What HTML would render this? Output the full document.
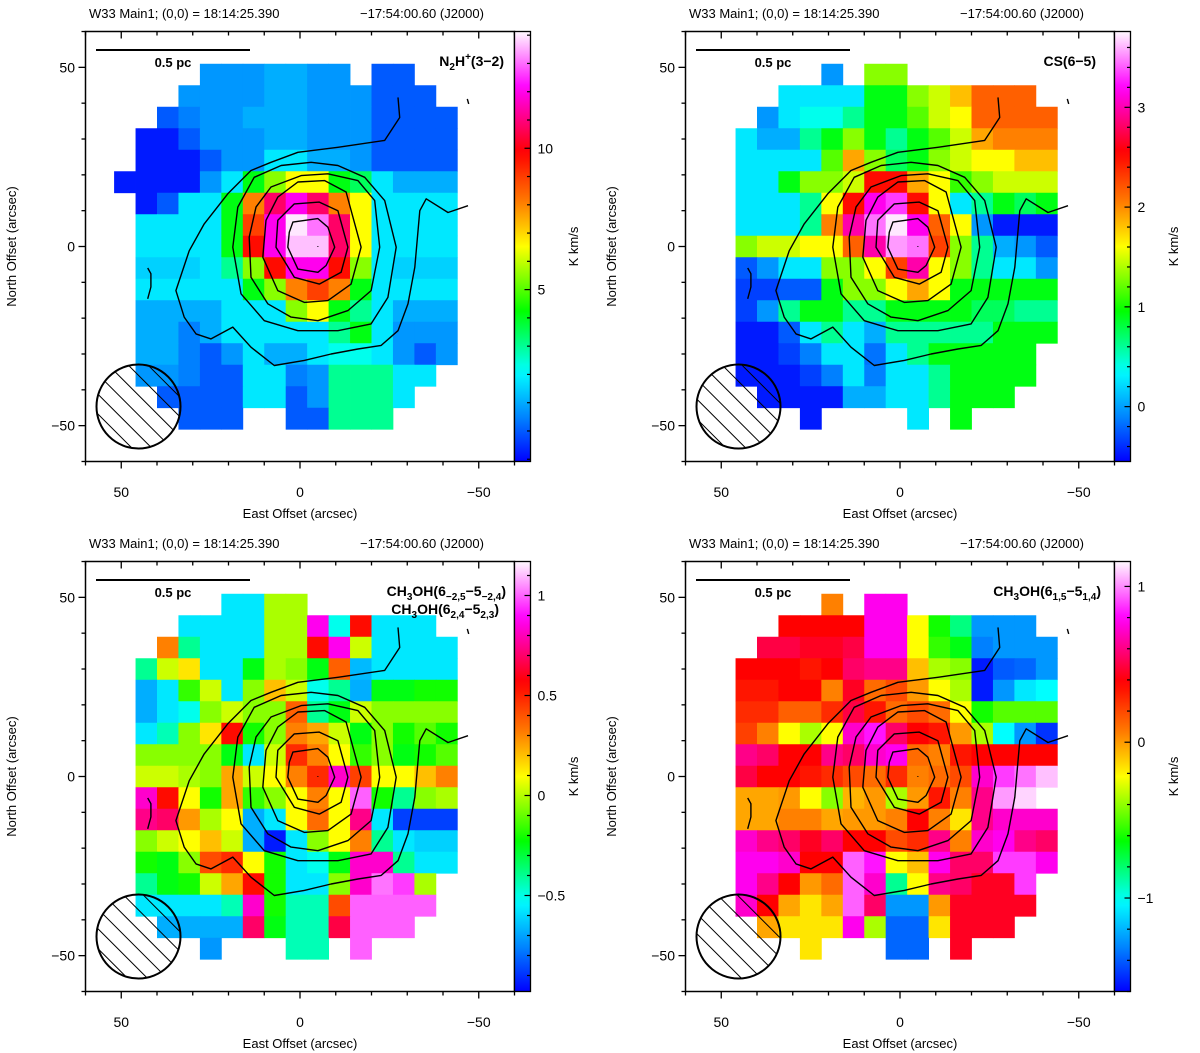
<!DOCTYPE html>
<html><head><meta charset="utf-8">
<style>
html,body{margin:0;padding:0;background:#fff;}
svg{display:block;font-family:"Liberation Sans",Arial,sans-serif;}
</style></head>
<body>
<svg id="fig" width="1200" height="1053" viewBox="0 0 1200 1053" xmlns="http://www.w3.org/2000/svg">
<defs>
<pattern id="hatch" patternUnits="userSpaceOnUse" width="14" height="14" patternTransform="rotate(-45)">
<line x1="0" y1="0" x2="0" y2="14" stroke="#000" stroke-width="2"/>
</pattern>
</defs>
</svg>
<script>
// ---- data: colour-scale level (percent of colorbar range), -1 = no data ----
const n2hLevels = [
[-1,-1,-1,-1,12,12,12,14,14,12,12,-1,7,7,-1,-1],
[-1,-1,-1,12,12,12,12,14,14,12,12,12,7,7,7,-1],
[-1,-1,7,10,12,12,14,14,14,12,12,12,7,7,7,7],
[-1,2,2,7,12,12,12,14,14,12,12,12,7,7,7,7],
[-1,2,2,2,7,12,12,19,19,14,14,12,7,7,7,7],
[2,2,2,2,12,19,34,43,50,50,34,30,19,14,14,14],
[-1,2,7,19,19,34,60,78,86,78,60,50,19,19,19,19],
[-1,19,19,19,19,34,66,86,99,93,78,50,19,19,19,19],
[-1,19,19,19,19,34,71,86,97,97,78,50,19,19,19,19],
[-1,17,17,17,19,27,43,71,86,86,71,43,19,17,17,17],
[-1,19,19,19,19,19,34,43,60,66,60,34,19,19,19,19],
[-1,14,14,14,14,19,19,19,43,50,34,27,19,14,14,14],
[-1,14,14,10,14,19,19,19,19,19,27,34,19,12,12,12],
[-1,14,14,10,7,12,19,14,14,19,22,22,19,12,7,12],
[-1,12,12,10,7,7,19,19,10,12,27,27,27,19,19,-1],
[-1,-1,7,7,7,7,19,19,7,12,27,27,27,19,-1,-1],
[-1,-1,-1,7,7,7,-1,-1,7,7,27,27,27,-1,-1,-1]];
const csLevels = [
[-1,-1,-1,-1,-1,12,-1,43,43,-1,-1,-1,-1,-1,-1,-1],
[-1,-1,-1,19,19,19,19,34,34,43,47,55,63,63,63,-1],
[-1,-1,12,19,22,22,27,34,34,40,47,50,63,63,63,63],
[-1,19,14,14,27,34,43,34,27,34,40,47,57,60,60,60],
[-1,19,19,19,19,40,57,43,30,34,43,47,50,50,55,55],
[-1,19,19,34,43,43,47,71,71,57,50,38,43,47,47,47],
[-1,19,19,19,27,50,71,86,90,71,50,19,27,34,30,34],
[-1,19,19,19,27,60,82,93,99,86,63,50,12,2,2,2],
[-1,43,47,47,50,50,63,82,95,93,66,43,27,14,12,7],
[-1,7,12,19,19,43,43,50,66,82,50,43,27,19,19,12],
[-1,5,5,7,7,34,43,43,50,57,50,34,34,34,34,34],
[-1,5,12,27,34,34,27,27,34,34,34,34,30,30,27,27],
[-1,2,2,7,19,27,19,14,27,27,27,27,27,34,34,34],
[-1,2,2,5,10,19,19,9,19,27,34,34,34,34,34,-1],
[-1,2,2,2,5,10,19,10,19,19,27,34,34,34,34,-1],
[-1,-1,2,2,2,2,14,14,19,19,27,34,34,34,-1,-1],
[-1,-1,-1,-1,2,-1,-1,-1,-1,19,-1,34,-1,-1,-1,-1]];
const ch3ohALevels = [
[-1,-1,-1,-1,-1,19,19,45,45,-1,-1,-1,-1,-1,-1,-1],
[-1,-1,-1,19,19,19,19,45,45,86,22,71,19,19,19,-1],
[-1,-1,60,27,19,19,19,45,45,71,86,47,19,19,19,19],
[-1,27,47,52,19,19,34,45,43,34,63,15,19,19,19,19],
[-1,14,19,38,47,19,43,55,47,22,27,14,34,34,36,36],
[-1,14,19,22,43,47,43,43,63,27,34,47,43,43,43,43],
[-1,19,25,43,52,71,36,43,60,57,47,34,43,36,40,36],
[-1,43,43,43,43,34,19,47,68,60,50,38,43,34,36,40],
[-1,47,47,45,43,57,47,50,60,68,84,66,50,50,55,60],
[-1,84,71,50,36,57,38,43,50,60,50,92,36,27,43,45],
[-1,80,78,58,45,50,14,19,50,62,50,80,19,5,5,5],
[-1,43,47,50,55,47,14,2,19,43,50,60,27,19,17,17],
[-1,36,34,43,65,68,50,36,19,22,34,84,84,27,19,19],
[-1,27,34,36,47,57,71,36,19,19,43,84,93,90,45,-1],
[-1,19,19,19,19,25,84,36,25,25,65,92,92,92,92,-1],
[-1,-1,14,14,14,14,78,34,25,25,76,92,92,92,-1,-1],
[-1,-1,-1,-1,12,-1,-1,-1,25,25,-1,92,-1,-1,-1,-1]];
const ch3ohBLevels = [
[-1,-1,-1,-1,-1,60,-1,86,86,-1,-1,-1,-1,-1,-1,-1],
[-1,-1,-1,72,72,72,72,86,86,50,36,28,12,12,12,-1],
[-1,-1,76,76,74,74,76,86,86,50,38,34,10,12,12,12],
[-1,72,72,72,70,72,78,80,80,55,45,43,2,7,8,12],
[-1,70,70,72,72,60,74,62,65,58,50,45,2,12,19,21],
[-1,68,68,63,63,68,76,70,62,65,62,50,36,40,40,40],
[-1,66,60,50,45,50,84,88,78,72,70,58,45,21,12,4],
[-1,80,78,72,72,80,78,84,86,62,60,70,72,72,72,72],
[-1,76,72,72,70,68,65,62,68,60,62,65,84,90,93,97],
[-1,57,57,58,50,43,56,58,45,58,70,60,80,95,98,-1],
[-1,57,57,60,60,57,58,58,60,72,60,52,80,84,84,84],
[-1,84,80,78,74,78,72,72,65,68,80,60,84,86,80,78],
[-1,86,86,84,72,72,92,88,50,55,86,78,78,90,90,86],
[-1,86,80,72,58,62,92,84,27,50,80,78,74,74,90,-1],
[-1,84,72,57,52,57,92,78,12,12,58,74,74,74,74,-1],
[-1,-1,57,52,52,52,86,45,8,8,52,74,74,74,-1,-1],
[-1,-1,-1,-1,52,-1,-1,-1,8,8,-1,74,-1,-1,-1,-1]];
// colorbar ranges and tick labels
const n2hRange = [-1.08, 14.13];   const n2hTicks = [5, 10];          const n2hMinor = 1;
const csRange = [-0.55, 3.76];     const csTicks = [0, 1, 2, 3];      const csMinor = 0.2;
const ch3ohARange = [-0.98, 1.17]; const ch3ohATicks = [-0.5, 0, 0.5, 1]; const ch3ohAMinor = 0.1;
const ch3ohBRange = [-1.6, 1.16];  const ch3ohBTicks = [-1, 0, 1];    const ch3ohBMinor = 0.2;
// grid: column / row centres (arcsec)
const colOffsets = [49,43,37,31,25,19,13,7,1,-5,-11,-17,-23,-29,-35,-41];
const rowOffsets = [48,42,36,30,24,18,12,6,0,-6,-12,-18,-24,-30,-36,-42,-48];
const axisTicks = [50, 0, -50];
// N2H+ contours (arcsec offsets, east, north)
const contourInnerX = [2.0,-5.0,-7.8,-9.7,-7.3,-5.0,0.6,3.4,3.0];
const contourInnerY = [6.8,7.8,5.4,-0.2,-5.3,-7.2,-6.3,-0.2,4.0];
const contour2X = [1.6,-5.4,-10.6,-13.4,-11.5,-5.4,1.6,6.7,6.2];
const contour2Y = [11.9,12.4,10.0,-0.2,-7.2,-10.5,-8.6,-0.2,7.3];
const contour3X = [0.6,-6.9,-12.9,-17.1,-14.3,-7.8,-1.2,6.2,10.4,9.5,6.2];
const contour3Y = [18.0,18.4,15.2,-0.2,-10.5,-15.1,-15.6,-12.3,-3.0,7.3,13.8];
const contour4X = [8.1,-0.3,-7.8,-16.2,-20.9,-22.3,-19.9,-13.4,-5.0,2.5,9.0,13.7,14.2,12.3];
const contour4Y = [16.6,19.8,20.3,18.4,12.8,-0.2,-12.3,-17.9,-20.7,-19.7,-16.0,-8.6,2.6,11.0];
const contour5X = [12.8,5.3,-3.1,-10.6,-18.1,-23.7,-26.9,-24.6,-19.9,-10.6,0.6,10.0,16.5,18.8,17.4];
const contour5Y = [19.3,22.6,23.5,22.6,19.3,12.8,-0.2,-14.2,-21.6,-23.5,-23.5,-20.7,-13.2,-0.2,11.0];
const contourOuterX = [-27.4,-27.9,-23.7,-10.6,0.6,8.1,13.7,20.2,26.8,31.0,34.7,32.4,29.1,24.9,18.8,13.7,7.2,-1.2,-8.7,-16.2,-22.7,-27.4,-30.2,-32.1,-33.5,-35.3,-41.4,-47.0];
const contourOuterY = [41.6,36.0,29.6,27.7,26.3,23.5,21.2,14.7,6.3,-1.2,-12.3,-19.7,-24.4,-25.8,-22.5,-28.1,-33.2,-31.8,-30.0,-28.6,-27.6,-23.5,-16.0,-5.8,10.0,13.3,9.5,11.4];
const contourEdgeX = [42.6,41.7,41.7,42.6];
const contourEdgeY = [-6.0,-7.6,-11.3,-14.6];
const contourTickX = [-46.8,-47.2];
const contourTickY = [41.2,39.8];

const NS = 'http://www.w3.org/2000/svg';
const svg = document.getElementById('fig');
function mk(tag, attrs, parent){const e=document.createElementNS(NS,tag);for(const k in attrs)e.setAttribute(k,attrs[k]);(parent||svg).appendChild(e);return e;}

const cmapStops = [[0,[0,0,255]],[0.1,[0,128,255]],[0.21,[0,255,255]],[0.35,[0,255,0]],[0.5,[255,255,0]],[0.6,[255,128,0]],[0.72,[255,0,0]],[0.87,[255,0,255]],[1,[255,250,255]]];
function cmap(f){f=Math.max(0,Math.min(1,f));for(let i=1;i<cmapStops.length;i++){if(f<=cmapStops[i][0]){const a=cmapStops[i-1],b=cmapStops[i];const t=(f-a[0])/(b[0]-a[0]);const c=a[1].map((v,k)=>Math.round(v+(b[1][k]-v)*t));return 'rgb('+c.join(',')+')';}}return 'rgb(255,250,255)';}

const contours = [[contourInnerX,contourInnerY,true],[contour2X,contour2Y,true],[contour3X,contour3Y,true],[contour4X,contour4Y,true],[contour5X,contour5Y,true],[contourOuterX,contourOuterY,false],[contourEdgeX,contourEdgeY,false],[contourTickX,contourTickY,false]];

const panels = [
 {ox:0,oy:0,levels:n2hLevels,range:n2hRange,ticks:n2hTicks,minor:n2hMinor,name:'n2h'},
 {ox:600,oy:0,levels:csLevels,range:csRange,ticks:csTicks,minor:csMinor,name:'cs'},
 {ox:0,oy:530,levels:ch3ohALevels,range:ch3ohARange,ticks:ch3ohATicks,minor:ch3ohAMinor,name:'ch3oh-a'},
 {ox:600,oy:530,levels:ch3ohBLevels,range:ch3ohBRange,ticks:ch3ohBTicks,minor:ch3ohBMinor,name:'ch3oh-b'}];

function fmt(v){return (v<0?'\u2212':'')+Math.abs(v);}

panels.forEach((p,pi)=>{
  const g = mk('g',{});
  
  
  const px = X => p.ox + 300 - X*3.575;
  const py = Y => p.oy + 246.5 - Y*3.583;
  const L=p.ox+85.5, R=p.ox+514.5, T=p.oy+31.5, B=p.oy+461.5;
  const cells = mk('g',{},g);
  
  
  p.levels.forEach((row,j)=>{row.forEach((v,i)=>{
    if(v<0) return;
    const X=colOffsets[i], Y=rowOffsets[j];
    const x0=px(X+3), x1=px(X-3), y0=py(Y+3), y1=py(Y-3);
    const r = mk('rect',{x:x0.toFixed(2),y:y0.toFixed(2),width:(x1-x0+0.4).toFixed(2),height:(y1-y0+0.4).toFixed(2),fill:cmap(v/100)},cells);
    
    
  });});
  contours.forEach(([xs,ys,closed])=>{
    const pts = xs.map((x,k)=>px(x).toFixed(1)+','+py(ys[k]).toFixed(1)).join(' ');
    const c = mk(closed?'polygon':'polyline',{points:pts,fill:'none',stroke:'#000','stroke-width':1.4,'stroke-linejoin':'round'},g);
    
    
  });
  mk('rect',{x:px(-5)-0.5,y:py(0)-0.5,width:1,height:1,fill:'#000'},g);
  const beam = mk('g',{},g);
  
  
  mk('circle',{cx:p.ox+138.5,cy:p.oy+406.5,r:42,fill:'url(#hatch)'},beam);
  mk('circle',{cx:p.ox+138.5,cy:p.oy+406.5,r:42,fill:'none',stroke:'#000','stroke-width':2},beam);
  const sb = mk('g',{},g);
  
  
  mk('line',{x1:p.ox+96,x2:p.ox+250,y1:p.oy+50,y2:p.oy+50,stroke:'#000','stroke-width':2},sb);
  const sbt = mk('text',{x:p.ox+173,y:p.oy+67,'font-size':13,'font-weight':'bold','text-anchor':'middle'},sb);
  sbt.textContent='0.5  pc';
  const fr = mk('rect',{x:L,y:T,width:R-L,height:B-T,fill:'none',stroke:'#000','stroke-width':1.5},g);
  
  
  for(let X=-60;X<=60;X+=10){
    const maj = X%50===0, x=px(X), len=maj?7:4;
    mk('line',{x1:x,x2:x,y1:B,y2:B+len,stroke:'#000','stroke-width':1.3},g);
    mk('line',{x1:x,x2:x,y1:T,y2:T+len,stroke:'#000','stroke-width':1.3},g);
    const y=py(X);
    mk('line',{x1:L-len,x2:L,y1:y,y2:y,stroke:'#000','stroke-width':1.3},g);
  }
  axisTicks.forEach(v=>{
    const t = mk('text',{x:px(v),y:p.oy+497,'font-size':14,'text-anchor':'middle'},g);
    t.textContent=fmt(v);
    
    
    const u = mk('text',{x:p.ox+75,y:py(v)+5,'font-size':14,'text-anchor':'end'},g);
    u.textContent=fmt(v);
    
    
  });
  const xt = mk('text',{x:p.ox+300,y:p.oy+518,'font-size':13,'text-anchor':'middle'},g);
  xt.textContent='East Offset (arcsec)';
  
  
  const yt = mk('text',{x:0,y:0,'font-size':13,'text-anchor':'middle',transform:'translate('+(p.ox+16)+','+(p.oy+246.5)+') rotate(-90)'},g);
  yt.textContent='North Offset (arcsec)';
  
  
  const tt = mk('text',{x:p.ox+89,y:p.oy+18,'font-size':13},g);
  tt.textContent='W33 Main1; (0,0) = 18:14:25.390';
  
  
  const tt2 = mk('text',{x:p.ox+360,y:p.oy+18,'font-size':13},g);
  tt2.textContent='\u221217:54:00.60 (J2000)';
  
  
  const cb = mk('g',{},g);
  
  
  const gid='grad'+pi;
  const lg = mk('linearGradient',{id:gid,x1:0,y1:1,x2:0,y2:0},svg.querySelector('defs'));
  for(let k=0;k<=40;k++){mk('stop',{offset:k/40,'stop-color':cmap(k/40)},lg);}
  const cL=p.ox+514.5, cR=p.ox+530.5;
  mk('rect',{x:cL,y:T,width:cR-cL,height:B-T,fill:'url(#'+gid+')',stroke:'#000','stroke-width':1.3},cb);
  const [vmin,vmax]=p.range;
  const cy = v => B - (v-vmin)/(vmax-vmin)*(B-T);
  const start = Math.ceil(vmin/p.minor-1e-6);
  for(let k=start;k*p.minor<=vmax+1e-9;k++){
    const v=k*p.minor; const y=cy(v);
    const isMaj = p.ticks.some(t=>Math.abs(t-v)<1e-6);
    mk('line',{x1:cR-(isMaj?6:3.5),x2:cR,y1:y,y2:y,stroke:'#000','stroke-width':1.2},cb);
  }
  p.ticks.forEach(v=>{
    const t = mk('text',{x:cR+7,y:cy(v)+5,'font-size':14},cb);
    t.textContent=fmt(v);
    
    
  });
  const ut = mk('text',{x:0,y:0,'font-size':13,'text-anchor':'middle',transform:'translate('+(p.ox+578)+','+(p.oy+246.5)+') rotate(-90)'},cb);
  ut.textContent='K km/s';
  
  
});

function label(x,y,parts,name){
  const t = mk('text',{x:x,y:y,'font-size':14,'font-weight':'bold','text-anchor':'end'});
  
  
  parts.forEach(([s,k])=>{
    const ts = mk('tspan',{},t);
    if(k==='sub'){ts.setAttribute('font-size','10');ts.setAttribute('dy','4');}
    else if(k==='sup'){ts.setAttribute('font-size','10');ts.setAttribute('dy','-6');}
    else {ts.setAttribute('dy', ts.previousSibling ? (t.dataset.last==='sub'?'-4':(t.dataset.last==='sup'?'6':'0')) : '0');}
    t.dataset.last = k||'n';
    ts.textContent=s;
  });
  return t;
}
label(504,66,[['N'],['2','sub'],['H'],['+','sup'],['(3\u22122)']],'n2h-line-label');
label(1096,66,[['CS(6\u22125)']],'cs-line-label');
label(506,596,[['CH'],['3','sub'],['OH(6'],['\u22122,5','sub'],['\u22125'],['\u22122,4','sub'],[')']],'ch3oh-line-label-1');
label(499,614,[['CH'],['3','sub'],['OH(6'],['2,4','sub'],['\u22125'],['2,3','sub'],[')']],'ch3oh-line-label-2');
label(1101,596,[['CH'],['3','sub'],['OH(6'],['1,5','sub'],['\u22125'],['1,4','sub'],[')']],'ch3oh-b-line-label');
</script>
</body></html>
